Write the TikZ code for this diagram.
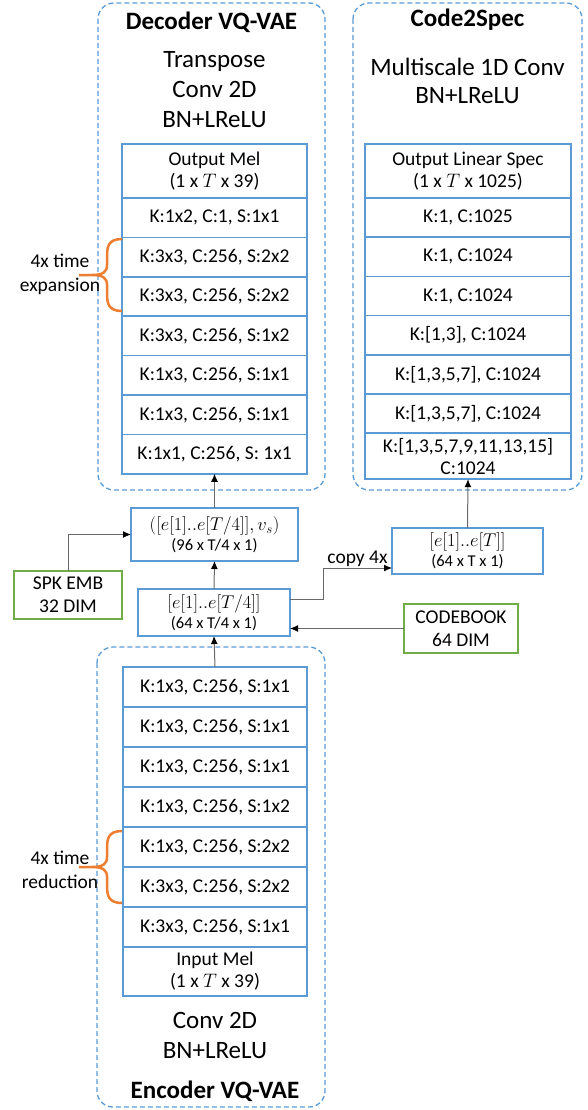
\RequirePackage{fix-cm}
\documentclass[tikz,border=0pt]{standalone}
\usepackage{fontspec}
\setmainfont{Carlito}
\usepackage{tikz}
\usetikzlibrary{positioning,arrows.meta}

\definecolor{boxblue}{RGB}{91,155,213}
\definecolor{boxgreen}{RGB}{112,173,71}
\definecolor{braceorange}{RGB}{237,125,49}
\definecolor{linegray}{RGB}{105,105,105}

\tikzset{
  group/.style={draw=boxblue, line width=1.3pt, dash pattern=on 5pt off 3pt, rounded corners=16pt},
  title/.style={font=\fontsize{25}{30}\selectfont\bfseries, inner sep=0pt},
  subtitle/.style={font=\fontsize{25}{30}\selectfont, align=center, inner sep=0pt},
  layer/.style={draw=boxblue, line width=1.5pt, fill=white, minimum width=185pt, minimum height=39.4pt,
    inner sep=0pt, outer sep=0pt, align=center, font=\fontsize{19.5}{22}\selectfont},
  tensor/.style={draw=boxblue, line width=1.5pt, fill=white, inner sep=0pt, outer sep=0pt, align=center,
    font=\fontsize{16.5}{20}\selectfont},
  source/.style={draw=boxgreen, line width=1.5pt, fill=white, inner sep=0pt, outer sep=0pt, align=center,
    font=\fontsize{19.5}{23}\selectfont},
  note/.style={font=\fontsize{19.5}{24}\selectfont, align=center, inner sep=0pt},
  conn/.style={draw=linegray, line width=1pt, -{Latex[length=8pt, width=7pt, color=black]}},
  timebrace/.pic={
    \draw[braceorange, line width=2.5pt]
      (122,-36) .. controls (108,-36) and (107,-28) .. (107,-18) -- (107,-10)
      .. controls (107,-3) and (103,0) .. (92,0) -- (79,0)
      (92,0) .. controls (103,0) and (107,3) .. (107,10) -- (107,18)
      .. controls (107,28) and (108,36) .. (122,36);
  }
}

\begin{document}
\begin{tikzpicture}[x=1pt, y=-1pt]
  \useasboundingbox (0,0) rectangle (587,1110);

  % Groups
  \draw[group] (98,3) rectangle (325,490);
  \draw[group] (353,3) rectangle (582,490);
  \draw[group] (97,647) rectangle (325,1107);

  % Decoder VQ-VAE
  \node[title] (dectitle) at (211.5,22) {Decoder VQ-VAE};
  \node[subtitle] (decsub) at (214.5,90) {Transpose\\Conv 2D\\BN+LReLU};
  \node[layer, minimum height=54pt, anchor=north] (dec1) at (214.5,144) {Output Mel\\(1 x $T$ x 39)};
  \node[layer, below=0pt of dec1] (dec2) {K:1x2, C:1, S:1x1};
  \node[layer, below=0pt of dec2] (dec3) {K:3x3, C:256, S:2x2};
  \node[layer, below=0pt of dec3] (dec4) {K:3x3, C:256, S:2x2};
  \node[layer, below=0pt of dec4] (dec5) {K:3x3, C:256, S:1x2};
  \node[layer, below=0pt of dec5] (dec6) {K:1x3, C:256, S:1x1};
  \node[layer, below=0pt of dec6] (dec7) {K:1x3, C:256, S:1x1};
  \node[layer, below=0pt of dec7] (dec8) {K:1x1, C:256, S: 1x1};

  \pic at (0,275) {timebrace};
  \node[note] (exptext) at (60,274) {4x time\\expansion};

  % Code2Spec
  \node[title] (spectitle) at (467.5,20) {Code2Spec};
  \node[subtitle, font=\fontsize{25}{28.5}\selectfont] (specsub) at (467.5,81) {Multiscale 1D Conv\\BN+LReLU};
  \node[layer, minimum width=206pt, minimum height=54pt, anchor=north] (spec1) at (468,144) {Output Linear Spec\\(1 x $T$ x 1025)};
  \node[layer, minimum width=206pt, minimum height=39.2pt, below=0pt of spec1] (spec2) {K:1, C:1025};
  \node[layer, minimum width=206pt, minimum height=39.2pt, below=0pt of spec2] (spec3) {K:1, C:1024};
  \node[layer, minimum width=206pt, minimum height=39.2pt, below=0pt of spec3] (spec4) {K:1, C:1024};
  \node[layer, minimum width=206pt, minimum height=39.2pt, below=0pt of spec4] (spec5) {K:[1,3], C:1024};
  \node[layer, minimum width=206pt, minimum height=39.2pt, below=0pt of spec5] (spec6) {K:[1,3,5,7], C:1024};
  \node[layer, minimum width=206pt, minimum height=39.2pt, below=0pt of spec6] (spec7) {K:[1,3,5,7], C:1024};
  \node[layer, minimum width=206pt, minimum height=46pt, below=0pt of spec7] (spec8) {K:[1,3,5,7,9,11,13,15]\\C:1024};

  % Codes
  \node[tensor, minimum width=167pt, minimum height=53pt] (concat) at (214.5,534.5)
    {{\fontsize{18.5}{20}\selectfont $([e[1]..e[T/4]],v_s)$}\\(96 x T/4 x 1)};
  \node[tensor, minimum width=152pt, minimum height=47pt] (codes) at (214,612.5)
    {{\fontsize{18.5}{20}\selectfont $\big[e[1]..e[T/4]\big]$}\\(64 x T/4 x 1)};
  \node[tensor, minimum width=151pt, minimum height=46pt] (fullcodes) at (467.5,551)
    {{\fontsize{18.5}{20}\selectfont $\big[e[1]..e[T]\big]$}\\(64 x T x 1)};
  \node[source, minimum width=108pt, minimum height=48pt] (spk) at (68,595) {SPK EMB\\32 DIM};
  \node[source, minimum width=114pt, minimum height=49pt] (codebook) at (461,628.5) {CODEBOOK\\64 DIM};

  % Encoder VQ-VAE
  \node[layer, minimum width=184pt, minimum height=40pt, anchor=north] (enc1) at (215,667) {K:1x3, C:256, S:1x1};
  \node[layer, minimum width=184pt, minimum height=40pt, below=0pt of enc1] (enc2) {K:1x3, C:256, S:1x1};
  \node[layer, minimum width=184pt, minimum height=40pt, below=0pt of enc2] (enc3) {K:1x3, C:256, S:1x1};
  \node[layer, minimum width=184pt, minimum height=40pt, below=0pt of enc3] (enc4) {K:1x3, C:256, S:1x2};
  \node[layer, minimum width=184pt, minimum height=40pt, below=0pt of enc4] (enc5) {K:1x3, C:256, S:2x2};
  \node[layer, minimum width=184pt, minimum height=40pt, below=0pt of enc5] (enc6) {K:3x3, C:256, S:2x2};
  \node[layer, minimum width=184pt, minimum height=40pt, below=0pt of enc6] (enc7) {K:3x3, C:256, S:1x1};
  \node[layer, minimum width=184pt, minimum height=49pt, below=0pt of enc7] (enc8) {Input Mel\\(1 x $T$ x 39)};
  \node[subtitle] (encsub) at (215,1035.5) {Conv 2D\\BN+LReLU};
  \node[title] (enctitle) at (215,1091) {Encoder VQ-VAE};

  \pic at (0,867) {timebrace};
  \node[note] (redtext) at (60,870) {4x time\\reduction};

  % Connectors
  \draw[conn] (enc1.north) -- (codes.south);
  \draw[conn] (codebook.west) -- (codebook.west -| codes.east);
  \draw[conn] (codes.north) -- (concat.south);
  \draw[conn] (spk.north) |- (concat.west);
  \draw[conn] (concat.north) -- (dec8.south);
  \draw[conn] ([yshift=13pt]codes.east) -- ++(33,0) |- ([yshift=-17pt]fullcodes.west)
    node[pos=0.75, above, inner sep=1pt, font=\fontsize{19.5}{22}\selectfont] (copylabel) {copy 4x};
  \draw[conn] (fullcodes.north) -- (spec8.south);
\end{tikzpicture}
\end{document}
